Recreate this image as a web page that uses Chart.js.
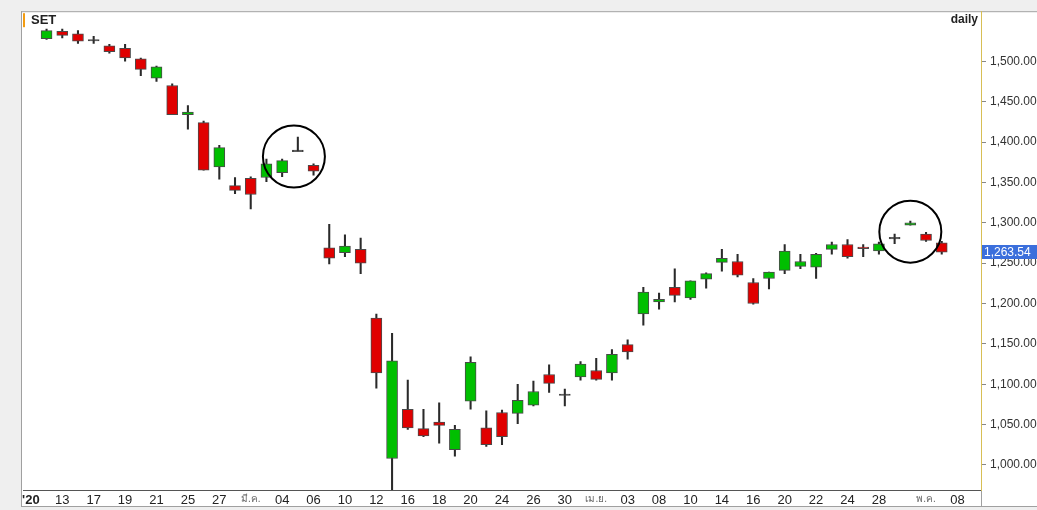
<!DOCTYPE html>
<html>
<head>
<meta charset="utf-8">
<script src="https://cdn.jsdelivr.net/npm/chart.js@4.4.1/dist/chart.umd.min.js"></script>
<style>
  html, body { margin: 0; padding: 0; background: #efefef; }
  #wrap { width: 1037px; height: 510px; }
</style>
</head>
<body>
<div id="wrap"><canvas id="setChart" width="1037" height="510"></canvas></div>
<script>
// one slot per trading day; first slot and last two are empty
const dates = [
  '2020-02-11', '2020-02-12', '2020-02-13', '2020-02-14', '2020-02-17', '2020-02-18', '2020-02-19',
  '2020-02-20', '2020-02-21', '2020-02-24', '2020-02-25', '2020-02-26', '2020-02-27', '2020-02-28',
  '2020-03-02', '2020-03-03', '2020-03-04', '2020-03-05', '2020-03-06', '2020-03-09', '2020-03-10',
  '2020-03-11', '2020-03-12', '2020-03-13', '2020-03-16', '2020-03-17', '2020-03-18', '2020-03-19',
  '2020-03-20', '2020-03-23', '2020-03-24', '2020-03-25', '2020-03-26', '2020-03-27', '2020-03-30',
  '2020-03-31', '2020-04-01', '2020-04-02', '2020-04-03', '2020-04-07', '2020-04-08', '2020-04-09',
  '2020-04-10', '2020-04-13', '2020-04-14', '2020-04-15', '2020-04-16', '2020-04-17', '2020-04-20',
  '2020-04-21', '2020-04-22', '2020-04-23', '2020-04-24', '2020-04-27', '2020-04-28', '2020-04-29',
  '2020-04-30', '2020-05-05', '2020-05-07', '2020-05-08', '2020-05-11'
];
const tickLabels = [
  "'20", '', '13', '', '17', '', '19', '', '21', '', '25', '', '27', '',
  'มี.ค.', '', '04', '', '06', '', '10', '', '12', '', '16', '', '18', '', '20', '', '24', '', '26', '', '30', '',
  'เม.ย.', '', '03', '', '08', '', '10', '', '14', '', '16', '', '20', '', '22', '', '24', '', '28', '', '',
  'พ.ค.', '', '08', ''
];

// candles from 12 Feb to 7 May 2020
const open  = [1528, 1537, 1534, 1526, 1519, 1516, 1503, 1479, 1470, 1434, 1424, 1369, 1346, 1355, 1356, 1362,
               1389, 1371, 1269, 1263, 1267, 1182, 1008, 1069, 1045, 1053, 1019, 1079, 1046, 1065, 1064, 1074,
               1112, 1087, 1109, 1117, 1114, 1149, 1187, 1202, 1220, 1207, 1230, 1251, 1252, 1226, 1231, 1241,
               1246, 1245, 1267, 1273, 1270, 1265, 1281, 1297, 1286, 1275];
const high  = [1540, 1540, 1538, 1531, 1521, 1521, 1504, 1494, 1472, 1445, 1426, 1396, 1356, 1357, 1379, 1379,
               1406, 1373, 1298, 1285, 1281, 1187, 1163, 1105, 1069, 1077, 1049, 1134, 1067, 1068, 1100, 1104,
               1124, 1094, 1128, 1132, 1143, 1155, 1220, 1213, 1243, 1228, 1238, 1267, 1261, 1231, 1239, 1273,
               1261, 1262, 1276, 1279, 1273, 1276, 1286, 1302, 1288, 1277];
const low   = [1527, 1529, 1522, 1522, 1510, 1500, 1482, 1475, 1434, 1416, 1365, 1354, 1336, 1317, 1351, 1357,
               1389, 1359, 1249, 1258, 1237, 1095, 969, 1044, 1035, 1027, 1011, 1069, 1023, 1025, 1051, 1073,
               1090, 1073, 1105, 1105, 1105, 1131, 1173, 1193, 1202, 1205, 1219, 1240, 1233, 1199, 1218, 1237,
               1243, 1231, 1261, 1256, 1258, 1261, 1274, 1297, 1277, 1261];
const close = [1538, 1532, 1525, 1526, 1512, 1504, 1490, 1493, 1434, 1437, 1365, 1393, 1340, 1335, 1373, 1377,
               1389, 1364, 1256, 1271, 1250, 1114, 1129, 1046, 1036, 1049, 1044, 1127, 1025, 1035, 1080, 1091,
               1101, 1087, 1125, 1106, 1137, 1140, 1214, 1205, 1210, 1228, 1237, 1256, 1235, 1200, 1239, 1265,
               1252, 1261, 1273, 1258, 1268, 1274, 1281, 1300, 1278, 1263.54];

// circled areas, in slot / index units
const highlights = [[16.75, 1382], [56, 1289]];

const FONT = "'Liberation Sans', Arial, 'Noto Sans', sans-serif";
const GREEN = '#00bf00';
const RED = '#e00000';
const DOJI = '#222222';

const pad = arr => [null].concat(arr, [null, null]);
const wicks = pad(low.map((l, i) => [l, high[i]]));
const bodies = pad(open.map((o, i) => {
  const c = close[i];
  if (Math.abs(o - c) < 1.5) {
    const m = (o + c) / 2;
    return [m - 0.9, m + 0.9];
  }
  return [o, c];
}));
const bodyColors = pad(open.map((o, i) => {
  if (o === close[i]) return DOJI;
  return close[i] > o ? GREEN : RED;
}));

const fmt = v => v.toLocaleString('en-US', { minimumFractionDigits: 2, maximumFractionDigits: 2 });

const frame = {
  id: 'frame',
  beforeDraw(chart) {
    const { ctx, chartArea: a, width, height } = chart;
    const bottom = chart.scales.x.bottom;
    ctx.save();
    ctx.fillStyle = '#efefef';
    ctx.fillRect(0, 0, width, height);
    ctx.fillStyle = '#ffffff';
    ctx.fillRect(a.left - 2, a.top, width - a.left + 2, bottom - a.top);
    ctx.strokeStyle = '#a0a0a0';
    ctx.lineWidth = 1;
    ctx.beginPath();
    ctx.moveTo(a.left - 2, a.top + 0.5); ctx.lineTo(width, a.top + 0.5);
    ctx.moveTo(a.left - 1.5, a.top); ctx.lineTo(a.left - 1.5, bottom);
    ctx.moveTo(a.left - 2, bottom - 0.5); ctx.lineTo(width, bottom - 0.5);
    ctx.moveTo(a.right + 0.5, a.bottom); ctx.lineTo(a.right + 0.5, bottom);
    ctx.stroke();
    ctx.restore();
  },
  afterDraw(chart) {
    const { ctx, chartArea: a, width } = chart;
    const xs = chart.scales.x, ys = chart.scales.y;
    ctx.save();
    // circled areas
    ctx.strokeStyle = '#000';
    ctx.lineWidth = 2;
    highlights.forEach(([s, v]) => {
      ctx.beginPath();
      ctx.arc(xs.getPixelForValue(s), ys.getPixelForValue(v), 31, 0, Math.PI * 2);
      ctx.stroke();
    });
    // last price tag
    const last = close[close.length - 1];
    const py = Math.round(ys.getPixelForValue(last));
    ctx.fillStyle = '#3b6fdc';
    ctx.fillRect(a.right + 1, py - 7, width - a.right - 1, 14);
    ctx.fillStyle = '#ffffff';
    ctx.font = '12px ' + FONT;
    ctx.textBaseline = 'middle';
    ctx.textAlign = 'left';
    ctx.fillText(fmt(last), a.right + 3, py + 0.5);
    // header
    ctx.fillStyle = '#f39c12';
    ctx.fillRect(a.left, a.top + 2, 2, 14);
    ctx.fillStyle = '#222';
    ctx.font = 'bold 13px ' + FONT;
    ctx.textBaseline = 'alphabetic';
    ctx.fillText('SET', a.left + 8, a.top + 13);
    ctx.textAlign = 'right';
    ctx.font = 'bold 12px ' + FONT;
    ctx.fillText('daily', a.right - 3, a.top + 12);
    ctx.restore();
  }
};

new Chart(document.getElementById('setChart').getContext('2d'), {
  type: 'bar',
  data: {
    labels: dates,
    datasets: [
      {
        label: 'wick',
        data: wicks,
        backgroundColor: '#2a2a2a',
        barThickness: 1.4,
        grouped: false,
        order: 2
      },
      {
        label: 'body',
        data: bodies,
        backgroundColor: bodyColors,
        borderColor: '#4a4a4a',
        borderWidth: 1,
        borderSkipped: false,
        barThickness: 11,
        grouped: false,
        order: 1
      }
    ]
  },
  options: {
    responsive: false,
    animation: false,
    layout: { padding: { left: 23, top: 10, right: 0, bottom: 3 } },
    plugins: {
      legend: { display: false },
      tooltip: { enabled: false }
    },
    scales: {
      x: {
        offset: true,
        grid: { display: false, drawTicks: false },
        border: { color: '#555', width: 1 },
        ticks: {
          autoSkip: false,
          maxRotation: 0,
          padding: 3,
          callback: (v, i) => tickLabels[i],
          color: ctx => tickLabels[ctx.index] && tickLabels[ctx.index].includes('.') ? '#666' : '#222',
          font: ctx => {
            const t = tickLabels[ctx.index] || '';
            if (t.startsWith("'")) return { family: FONT, size: 13, weight: 'bold' };
            if (t.includes('.')) return { family: FONT, size: 10 };
            return { family: FONT, size: 13 };
          }
        },
        afterFit: s => { s.height = 17; }
      },
      y: {
        position: 'right',
        min: 969,
        max: 1562,
        grid: { drawOnChartArea: false, tickLength: 5, color: '#888' },
        border: { color: '#d8bf55', dash: [1, 2], width: 1 },
        ticks: {
          stepSize: 50,
          includeBounds: false,
          crossAlign: 'near',
          padding: 4,
          color: '#333',
          font: { family: FONT, size: 12 },
          callback: v => (v > 1500 ? null : fmt(v))
        },
        afterFit: s => { s.width = 56; }
      }
    }
  },
  plugins: [frame]
});
</script>
</body>
</html>
